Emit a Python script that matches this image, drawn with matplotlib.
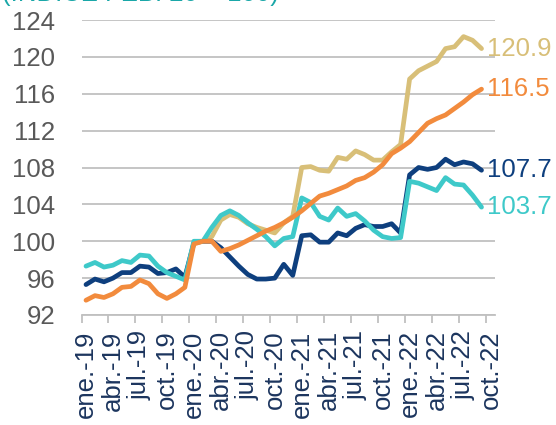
import matplotlib
matplotlib.use("Agg")
import matplotlib.pyplot as plt
import numpy as np

plt.rcParams["font.family"] = ["Liberation Sans", "DejaVu Sans"]

# Monthly categories, ene.-19 .. oct.-22
MESES = ["ene.", "feb.", "mar.", "abr.", "may.", "jun.",
         "jul.", "ago.", "sep.", "oct.", "nov.", "dic."]
categorias = [f"{m}-{a}" for a in ("19", "20", "21", "22") for m in MESES][:46]

# Index series (feb. 2020 = 100), ene.-19 .. sep.-22
serie_azul = [95.3, 95.9, 95.6, 96.0, 96.6, 96.6, 97.3, 97.2, 96.5, 96.6, 97.0, 96.1,
              99.8, 100.0, 100.0, 99.3, 98.3, 97.3, 96.4, 95.9, 95.9, 96.0, 97.5, 96.3,
              100.6, 100.7, 99.9, 99.9, 100.9, 100.6, 101.4, 101.8, 101.6, 101.6, 101.9, 100.9,
              107.2, 108.0, 107.8, 108.0, 108.9, 108.3, 108.6, 108.4, 107.7]
serie_turquesa = [97.3, 97.7, 97.2, 97.4, 97.9, 97.7, 98.5, 98.4, 97.3, 96.6, 96.2, 95.8,
                  100.0, 100.0, 101.5, 102.8, 103.3, 102.8, 102.0, 101.3, 100.5, 99.5, 100.3, 100.5,
                  104.7, 104.2, 102.7, 102.3, 103.6, 102.7, 103.0, 102.2, 101.2, 100.5, 100.3, 100.4,
                  106.5, 106.3, 105.9, 105.5, 106.9, 106.2, 106.1, 105.0, 103.7]
serie_naranja = [93.6, 94.1, 93.9, 94.3, 95.0, 95.1, 95.8, 95.4, 94.3, 93.8, 94.3, 95.0,
                 99.7, 100.0, 100.0, 98.9, 99.2, 99.6, 100.1, 100.6, 101.1, 101.5, 102.0, 102.6,
                 103.3, 104.1, 104.9, 105.2, 105.6, 106.0, 106.6, 106.9, 107.5, 108.3, 109.5, 110.1,
                 110.8, 111.8, 112.8, 113.3, 113.7, 114.4, 115.1, 115.9, 116.5]
# This series starts in feb.-20
inicio_dorada = "feb.-20"
serie_dorada = [100.0, 100.5, 102.3, 102.9, 102.6, 101.9, 101.5, 101.2, 100.9, 102.0, 102.7,
                108.0, 108.1, 107.7, 107.6, 109.1, 108.9, 109.8, 109.4, 108.8, 108.8, 109.7, 110.5,
                117.6, 118.5, 119.0, 119.5, 120.9, 121.1, 122.2, 121.8, 120.9]

y_ticks = [92, 96, 100, 104, 108, 112, 116, 120, 124]

C_AZUL = "#0e3f7e"
C_TURQ = "#3ec9c9"
C_NAR = "#f28b3d"
C_DOR = "#d8bf78"
C_GRID = "#c0c0c0"

fig = plt.figure(figsize=(5.56, 4.25), dpi=100)
W, H = 556, 425
ax = fig.add_axes([81.5 / W, 1 - 315 / H, (495 - 81.5) / W, 295 / H])

x_all = np.arange(len(serie_azul))
x_dor = np.arange(len(serie_dorada)) + categorias.index(inicio_dorada)

series = [
    (x_dor, serie_dorada, C_DOR),
    (x_all, serie_azul, C_AZUL),
    (x_all, serie_turquesa, C_TURQ),
    (x_all, serie_naranja, C_NAR),
]
for xs, ys, col in series:
    ax.plot(xs, ys, color=col, lw=3.4, solid_capstyle="round",
            solid_joinstyle="round", zorder=3)
    ax.annotate(f"{ys[-1]:.1f}", xy=(xs[-1], ys[-1]), xytext=(4, 0),
                textcoords="offset points", ha="left", va="center",
                color=col, fontsize=18.5, annotation_clip=False)

ax.set_ylim(92, 124)
ax.set_xlim(-0.5, len(categorias) - 0.5)
ax.set_yticks(y_ticks)
ax.yaxis.grid(True, color=C_GRID, lw=1.3)
ax.set_axisbelow(True)

ax.set_xticks(np.arange(0, len(categorias), 3))
ax.set_xticklabels(categorias[::3], rotation=90)
ax.set_xticks(np.arange(-0.5, len(categorias) - 1, 3), minor=True)

for s in ("left", "right", "top"):
    ax.spines[s].set_visible(False)
ax.spines["bottom"].set_color(C_GRID)
ax.spines["bottom"].set_linewidth(1.3)

ax.tick_params(axis="y", length=0, pad=19, labelsize=18.5, labelcolor="#595959")
ax.tick_params(axis="x", which="major", length=0, pad=11, labelsize=18.5,
               labelcolor="#1c355e")
ax.tick_params(axis="x", which="minor", length=6, width=1.3, color=C_GRID,
               direction="out")

fig.text(0.004, 1 - 1.5 / H, "(ÍNDICE FEB. 20 = 100)", color="#1aa7a8",
         fontsize=18.5, ha="left", va="baseline")

fig.savefig("out.png", dpi=100)
